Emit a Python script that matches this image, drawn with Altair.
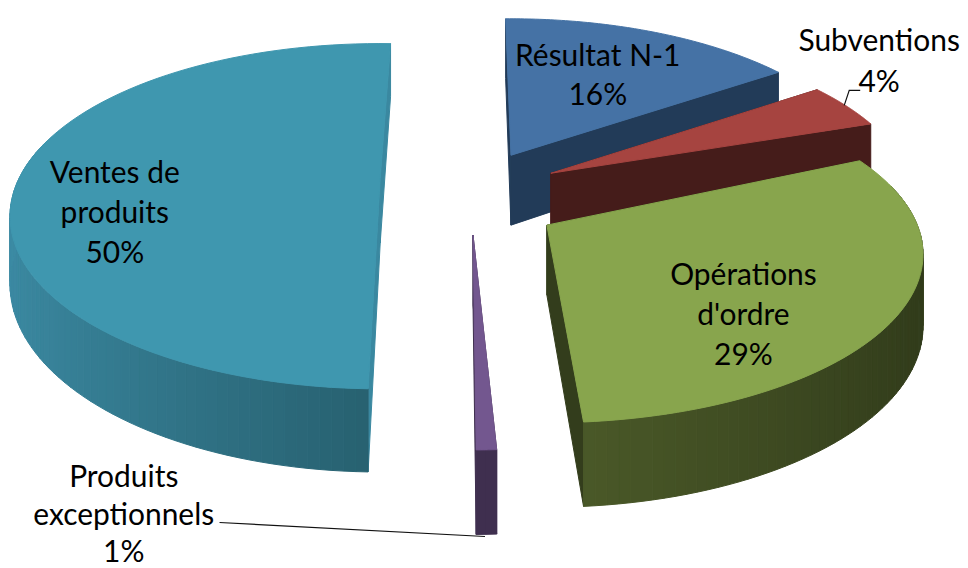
import math
import altair as alt

# --- data ---
categories = ["Résultat N-1", "Subventions", "Opérations d'ordre", "Produits exceptionnels", "Ventes de produits"]
shares = [16, 4, 29, 1, 50]
label_texts = ["Résultat N-1\n16%", "Subventions\n4%", "Opérations\nd'ordre\n29%", "Produits\nexceptionnels\n1%", "Ventes de\nproduits\n50%"]

# --- layout / styling ---
W, H = 952, 560
M = 8
R, RS = 375.0, 168.0
KS = [0.173, 0.173, 0.173, 0.173, 0.22]
DS = [70.0, 70.0, 70.0, 70.0, 65.0]
CENTERS = [(512, 155), (552, 173), (548, 225), (474, 235), (381, 178)]
XSCALE = [0.955, 0.955, 0.99, 1.0, 0.965]
YSCALE = [0.955, 0.955, 0.975, 1.06, 0.98]
NUDGE = [(-1.0, -2.3), (-2.6, -1.0), (-7.0, -1.1), (0.6, -0.4), (1.5, 2.0)]
TOP = ["#4572A5", "#A64440", "#88A54D", "#73578F", "#3F97AF"]
RADIAL = ["#223B58", "#451C1A", "#333D1C", "#3F2F4F", "#3A88A0"]
WALL_A = ["#223B58", "#451C1A", "#4C5B29", "#3F2F4F", "#27606F"]   # near front centre
WALL_B = ["#223B58", "#451C1A", "#303A1A", "#3F2F4F", "#3C8BA4"]   # far from front centre
LABEL_POS = [(599, 57), (881, 42), (745, 276), (124, 478), (115, 174)]
LINE_GAP = [39, 41, 40, 38, 40]
LEADERS = [[(220, 523), (486, 537)], [(846, 105), (851, 90), (862, 90)]]


def proj(i, t, r=1.0, low=False):
    c = CENTERS[i]
    u, v = math.sin(t) * r, math.cos(t) * r
    w = 1 + KS[i] * v
    return (c[0] + R * XSCALE[i] * u / w - M,
            c[1] - RS * YSCALE[i] * v / w + (DS[i] / w if low else 0) - M)


def mix(a, b, f):
    pa = [int(a[i:i + 2], 16) for i in (1, 3, 5)]
    pb = [int(b[i:i + 2], 16) for i in (1, 3, 5)]
    return "#%02x%02x%02x" % tuple(round(x + (y - x) * f) for x, y in zip(pa, pb))


def poly(points, color):
    pts = [list(p) for p in points]
    pts.append(pts[0])
    return {"type": "Feature", "properties": {"color": color},
            "geometry": {"type": "Polygon", "coordinates": [pts]}}


features = []
cum = 0.0
for i, s in enumerate(shares):
    a0 = math.radians(cum + NUDGE[i][0])
    a1 = math.radians(cum + s * 3.6 + NUDGE[i][1])
    cum += s * 3.6
    # radial walls
    for a in (a0, a1):
        features.append(poly([proj(i, a, 0), proj(i, a), proj(i, a, 1, True), proj(i, a, 0, True)], RADIAL[i]))
    # outer wall, as shaded strips
    n = max(2, int(abs(a1 - a0) / math.radians(1.5)))
    for j in range(n):
        t0 = a0 + (a1 - a0) * j / n
        t1 = a0 + (a1 - a0) * (j + 1) / n
        if math.cos((t0 + t1) / 2) > 0.25:
            continue
        f = min(1.0, abs(math.sin((t0 + t1) / 2)))
        features.append(poly([proj(i, t0), proj(i, t1), proj(i, t1, 1, True), proj(i, t0, 1, True)],
                             mix(WALL_A[i], WALL_B[i], f)))
    # top face
    arc = [proj(i, a0 + (a1 - a0) * j / 80) for j in range(81)]
    features.append(poly([proj(i, a0, 0)] + arc, TOP[i]))

shapes = alt.Chart(alt.InlineData(
    values={"type": "FeatureCollection", "features": features},
    format=alt.DataFormat(property="features", type="json"))
).mark_geoshape(strokeWidth=1).encode(
    color=alt.Color("properties.color:N", scale=None),
    stroke=alt.Stroke("properties.color:N", scale=None),
).project(type="identity", scale=1, translate=[0, 0])

xs = alt.Scale(domain=[0, W], range=[0, W])
ys = alt.Scale(domain=[0, H], range=[0, H])

leader_rows = [{"id": k, "o": o, "x": p[0] - M, "y": p[1] - M}
               for k, path in enumerate(LEADERS) for o, p in enumerate(path)]
leaders = alt.Chart(alt.Data(values=leader_rows)).mark_line(color="#111111", strokeWidth=1.2).encode(
    x=alt.X("x:Q", scale=xs, axis=None), y=alt.Y("y:Q", scale=ys, axis=None),
    detail="id:N", order="o:Q")

label_rows = [{"name": n, "line": k, "text": line, "x": p[0] - M, "y": p[1] - M + k * gap}
              for n, t, p, gap in zip(categories, label_texts, LABEL_POS, LINE_GAP)
              for k, line in enumerate(t.split("\n"))]
labels = alt.Chart(alt.Data(values=label_rows)).mark_text(
    font="Lato", fontSize=30, color="#000000", align="center", baseline="middle"
).encode(x=alt.X("x:Q", scale=xs, axis=None), y=alt.Y("y:Q", scale=ys, axis=None), text="text:N")

chart = alt.layer(shapes, leaders, labels).properties(
    width=W, height=H, padding=0, background="white"
).configure_view(stroke=None)

chart.save("out.html", embed_options={"renderer": "svg", "actions": False})
